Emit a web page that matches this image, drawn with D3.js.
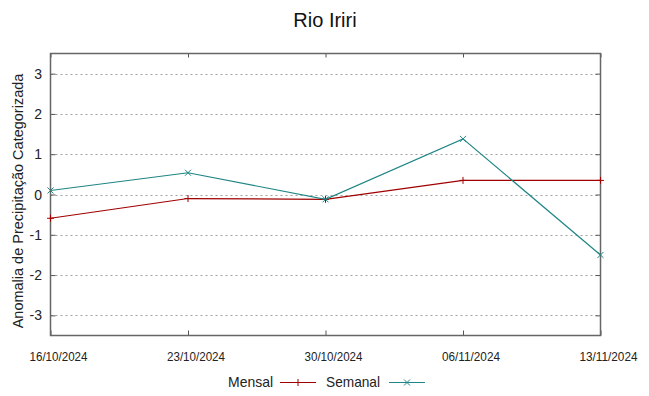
<!DOCTYPE html>
<html><head><meta charset="utf-8">
<script src="https://cdn.jsdelivr.net/npm/d3@7"></script>
<style>body{margin:0;background:#fff}svg{display:block}</style>
</head><body><svg id="c" width="649" height="396"></svg>
<script>
const title = "Rio Iriri";
const yLabel = "Anomalia de Precipitação Categorizada";
const dates = ["16/10/2024","23/10/2024","30/10/2024","06/11/2024","13/11/2024"];
const mensal = [-0.59, -0.10, -0.12, 0.35, 0.35];
const semanal = [0.10, 0.54, -0.12, 1.38, -1.50];
const yTicks = [-3,-2,-1,0,1,2,3];
const seriesNames = ["Mensal","Semanal"];

const svg = d3.select("#c");
const L=50.5, R=600.5, T=53.5, B=335.5;
const parse = d3.timeParse("%d/%m/%Y");
const xd = dates.map(parse);
const x = d3.scaleTime().domain([xd[0], xd[xd.length-1]]).range([L,R]);
const y = d3.scaleLinear().domain([-3.5,3.5]).range([B,T]);
const narrow = "'Liberation Sans Narrow','Liberation Sans',Arial,sans-serif";
const sans = "'Liberation Sans',Arial,sans-serif";

// grid
svg.append("g").selectAll("line").data(yTicks).join("line")
  .attr("x1",L).attr("x2",R).attr("y1",d=>Math.round(y(d))+0.5).attr("y2",d=>Math.round(y(d))+0.5)
  .attr("stroke","#a0a0a0").attr("stroke-width",1).attr("stroke-dasharray","2,3");

// axes with d3 axis
const ay = svg.append("g").attr("transform",`translate(${L},0)`)
  .call(d3.axisRight(y).tickValues(yTicks).tickSize(5).tickFormat(""));
const ay2 = svg.append("g").attr("transform",`translate(${R},0)`)
  .call(d3.axisLeft(y).tickValues(yTicks).tickSize(5).tickFormat(""));
const ax = svg.append("g").attr("transform",`translate(0,${B})`)
  .call(d3.axisTop(x).tickValues(xd).tickSize(5).tickFormat(""));
const ax2 = svg.append("g").attr("transform",`translate(0,${T})`)
  .call(d3.axisBottom(x).tickValues(xd).tickSize(4).tickFormat(""));
[ay,ay2,ax,ax2].forEach(g=>{g.select(".domain").remove();g.selectAll("line").attr("stroke","#555");});
// border
svg.append("rect").attr("x",L).attr("y",T).attr("width",R-L).attr("height",B-T)
  .attr("fill","none").attr("stroke","#666").attr("stroke-width",1.5);

// y tick labels
svg.append("g").selectAll("text").data(yTicks).join("text")
  .attr("x",42).attr("y",d=>y(d)+5).attr("text-anchor","end")
  .attr("font-family",sans).attr("font-size",14).attr("fill","#222").text(d=>d);
// x tick labels
svg.append("g").selectAll("text").data(xd).join("text")
  .attr("x",d=>x(d)+8).attr("y",361).attr("text-anchor","middle")
  .attr("font-family",narrow).attr("font-size",12).attr("fill","#222")
  .attr("textLength",58).attr("lengthAdjust","spacingAndGlyphs")
  .text((d,i)=>dates[i]);

// title
svg.append("text").attr("x",325).attr("y",27).attr("text-anchor","middle")
  .attr("font-family",sans).attr("font-size",20).attr("fill","#111").text(title);
// y label
svg.append("text").attr("transform","translate(23,201) rotate(-90)").attr("text-anchor","middle")
  .attr("font-family",sans).attr("font-size",14.5).attr("fill","#222").text(yLabel);

const colors = ["#a00000","#1f8585"];
const line = d3.line().x((d,i)=>x(xd[i])).y(d=>y(d));
function plus(g,cx,cy,c,s){g.append("path").attr("d",`M${cx-s},${cy}H${cx+s}M${cx},${cy-s}V${cy+s}`).attr("stroke",c).attr("fill","none");}
function cross(g,cx,cy,c,s){g.append("path").attr("d",`M${cx-s},${cy-s}L${cx+s},${cy+s}M${cx-s},${cy+s}L${cx+s},${cy-s}`).attr("stroke",c).attr("fill","none");}

const gm = svg.append("g");
gm.append("path").datum(mensal).attr("d",line).attr("fill","none").attr("stroke",colors[0]).attr("stroke-width",1.2);
mensal.forEach((v,i)=>plus(gm,x(xd[i]),y(v),colors[0],3.5));
const gs = svg.append("g");
gs.append("path").datum(semanal).attr("d",line).attr("fill","none").attr("stroke",colors[1]).attr("stroke-width",1.2);
semanal.forEach((v,i)=>cross(gs,x(xd[i]),y(v),colors[1],3));

// legend
const lg = svg.append("g");
lg.append("text").attr("x",228).attr("y",387).attr("font-family",narrow)
  .attr("font-size",15).attr("fill","#222")
  .attr("textLength",45).attr("lengthAdjust","spacingAndGlyphs").text(seriesNames[0]);
lg.append("line").attr("x1",280).attr("x2",316).attr("y1",382.5).attr("y2",382.5).attr("stroke",colors[0]).attr("stroke-width",1.2);
plus(lg,298,382.5,colors[0],3.5);
lg.append("text").attr("x",326).attr("y",387).attr("font-family",narrow)
  .attr("font-size",15).attr("fill","#222")
  .attr("textLength",54).attr("lengthAdjust","spacingAndGlyphs").text(seriesNames[1]);
lg.append("line").attr("x1",389).attr("x2",425).attr("y1",382.5).attr("y2",382.5).attr("stroke",colors[1]).attr("stroke-width",1.2);
cross(lg,407,382.5,colors[1],3);
</script></body></html>
